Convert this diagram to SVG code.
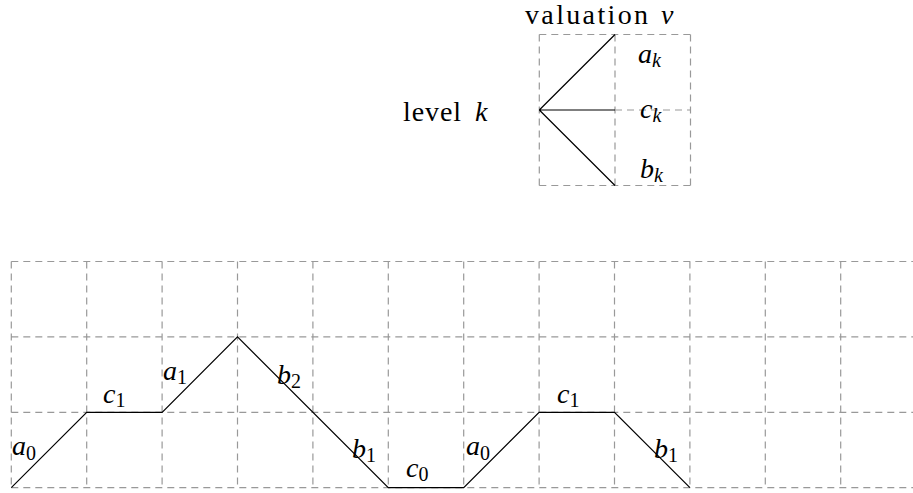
<svg xmlns="http://www.w3.org/2000/svg" width="913" height="493" viewBox="0 0 913 493">
<style>
.g{stroke:#999;stroke-width:1.2;stroke-dasharray:7 5;fill:none}
.s{stroke:#000;stroke-width:1.2;fill:none;stroke-linejoin:miter}
text{font-family:'Liberation Serif','Times New Roman','DejaVu Serif',serif;fill:#000}
.t{font-size:28px}
.m{font-style:italic;font-size:28px}
.sub{font-size:20px;font-style:normal}
.subi{font-size:20px;font-style:italic}
</style>
<rect width="913" height="493" fill="#fff"/>
<g id="legend-grid">
<path class="g" d="M539.3 34.5V185.5M615 34.5V185.5M690.5 34.5V185.5M539.3 34.5H690.5M539.3 185.5H690.5M615 110H690.5"/>
</g>
<g id="legend-edges">
<path class="s" d="M539.3 110L615 34.5M539.3 110H615M539.3 110L615 185.5"/>
</g>
<g id="legend-labels">
<text class="t" x="525" y="24" textLength="123" lengthAdjust="spacing">valuation</text>
<text class="m" x="661" y="24">ν</text>
<text class="t" x="403" y="121" textLength="58" lengthAdjust="spacing">level</text>
<text class="m" x="475" y="121">k</text>
<text class="m" x="638" y="63">a<tspan class="subi" dy="4">k</tspan></text>
<text class="m" x="640" y="118">c<tspan class="subi" dy="4">k</tspan></text>
<text class="m" x="640" y="178">b<tspan class="subi" dy="4">k</tspan></text>
</g>
<g id="grid">
<path class="g" d="M11.3 261.5H913M11.3 336.9H913M11.3 412.3H913M11.3 487.7H913
M11.3 261.5V487.7M86.7 261.5V487.7M162.1 261.5V487.7M237.5 261.5V487.7M312.9 261.5V487.7M388.3 261.5V487.7M463.7 261.5V487.7M539.1 261.5V487.7M614.5 261.5V487.7M689.9 261.5V487.7M765.3 261.5V487.7M840.7 261.5V487.7"/>
</g>
<g id="connectors">
<path class="s" d="M11.3 487.7L86.7 412.3H162.1L237.5 336.9L388.3 487.7H463.7L539.1 412.3H614.5L689.9 487.7"/>
</g>
<g id="path-labels">
<text class="m" x="12" y="455">a<tspan class="sub" dy="5">0</tspan></text>
<text class="m" x="103" y="403">c<tspan class="sub" dy="4">1</tspan></text>
<text class="m" x="163" y="380">a<tspan class="sub" dy="4">1</tspan></text>
<text class="m" x="277" y="384">b<tspan class="sub" dy="4">2</tspan></text>
<text class="m" x="352" y="458">b<tspan class="sub" dy="4">1</tspan></text>
<text class="m" x="406" y="477">c<tspan class="sub" dy="4">0</tspan></text>
<text class="m" x="466" y="455">a<tspan class="sub" dy="5">0</tspan></text>
<text class="m" x="557" y="403">c<tspan class="sub" dy="4">1</tspan></text>
<text class="m" x="654" y="458">b<tspan class="sub" dy="4">1</tspan></text>
</g>
</svg>
